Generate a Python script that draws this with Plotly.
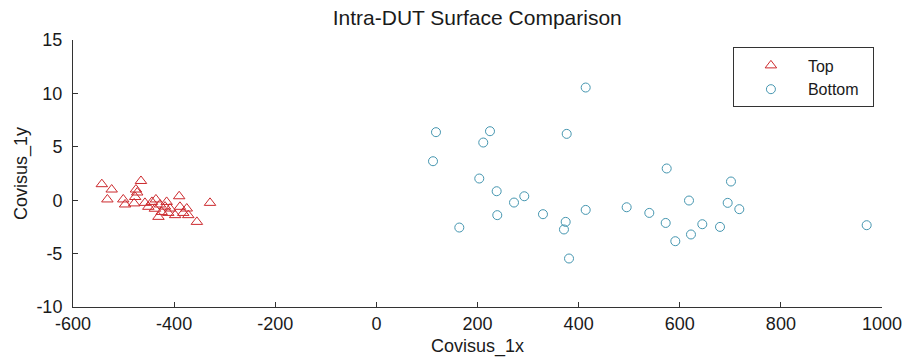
import plotly.graph_objects as go

# Top surface (red triangles)
top_x = [-543, -523.5, -532, -465.6, -473, -500.6, -497, -477, -479, -444,
         -436, -428, -438, -418, -431, -411.6, -390, -388.5, -398, -375,
         -372, -355, -329, -451, -457.7, -414.8, -382, -424.7, -408, -475.5]
top_y = [1.5, 1.0, 0.07, 1.8, 0.72, 0.07, -0.4, 0.3, -0.3, -0.16,
         0.07, -0.4, -0.8, -0.6, -1.56, -1.19, 0.37, -0.62, -1.4, -0.78,
         -1.4, -2.03, -0.25, -0.62, -0.25, -0.16, -1.19, -1.1, -0.78, 1.0]

# Bottom surface (blue circles)
bot_x = [112, 117.9, 211.4, 224.7, 203.5, 164, 237.9, 239.1, 272.2, 292.5,
         329.5, 374.4, 371, 376.4, 381, 414, 414, 495, 539.8, 572.2,
         574.2, 591.2, 618.3, 622.2, 644.6, 679.6, 694.8, 701.3, 717.8, 969.7]
bot_y = [3.65, 6.37, 5.40, 6.46, 2.03, -2.56, 0.84, -1.40, -0.22, 0.37,
         -1.31, -2.03, -2.74, 6.21, -5.46, 10.55, -0.91, -0.66, -1.19, -2.13,
         2.97, -3.84, -0.03, -3.21, -2.25, -2.50, -0.25, 1.75, -0.84, -2.34]

x_ticks = [-600, -400, -200, 0, 200, 400, 600, 800, 1000]
y_ticks = [-10, -5, 0, 5, 10, 15]
series_names = ["Top", "Bottom\u00a0\u00a0"]

FONT = "Liberation Sans, Arial, sans-serif"
TXT = "#1a1a1a"

fig = go.Figure()
fig.add_trace(go.Scatter(
    x=top_x, y=top_y, mode="markers", name=series_names[0],
    marker=dict(symbol="triangle-up-open", size=10, color="#cc2a2e",
                line=dict(width=1, color="#cc2a2e"))))
fig.add_trace(go.Scatter(
    x=bot_x, y=bot_y, mode="markers", name=series_names[1],
    marker=dict(symbol="circle-open", size=9, color="#4596b0",
                line=dict(width=1, color="#4596b0"))))

axis_common = dict(
    showgrid=False, zeroline=False, showline=True, linecolor="#333333",
    linewidth=1, ticks="inside", ticklen=5, tickcolor="#333333",
    tickfont=dict(family=FONT, size=18, color=TXT), mirror=False,
)

fig.update_layout(
    width=916, height=358,
    margin=dict(l=73, r=34, t=40, b=51, autoexpand=False),
    paper_bgcolor="white", plot_bgcolor="white",
    title=dict(text="Intra-DUT Surface Comparison", x=0.521, xanchor="center",
               y=0.951, yanchor="middle",
               font=dict(family=FONT, size=21, color=TXT)),
    xaxis=dict(range=[-600, 1000], tickvals=x_ticks,
               ticktext=[str(v) for v in x_ticks],
               title=dict(text="Covisus_1x", standoff=6,
                          font=dict(family=FONT, size=18, color=TXT)),
               automargin=False, **axis_common),
    yaxis=dict(range=[-10, 15], tickvals=y_ticks,
               ticktext=[str(v) for v in y_ticks], ticklabelstandoff=6,
               title=dict(text="Covisus_1y", standoff=4,
                          font=dict(family=FONT, size=18, color=TXT)),
               automargin=False, **axis_common),
    legend=dict(x=0.99, xanchor="right", y=0.972, yanchor="top",
                bgcolor="white", bordercolor="#333333", borderwidth=1,
                font=dict(family=FONT, size=16, color=TXT),
                itemwidth=64, tracegroupgap=0),
    showlegend=True,
)

fig.write_html("out.html",
               config={"displayModeBar": False},
               post_script="document.body.style.margin='0';")
